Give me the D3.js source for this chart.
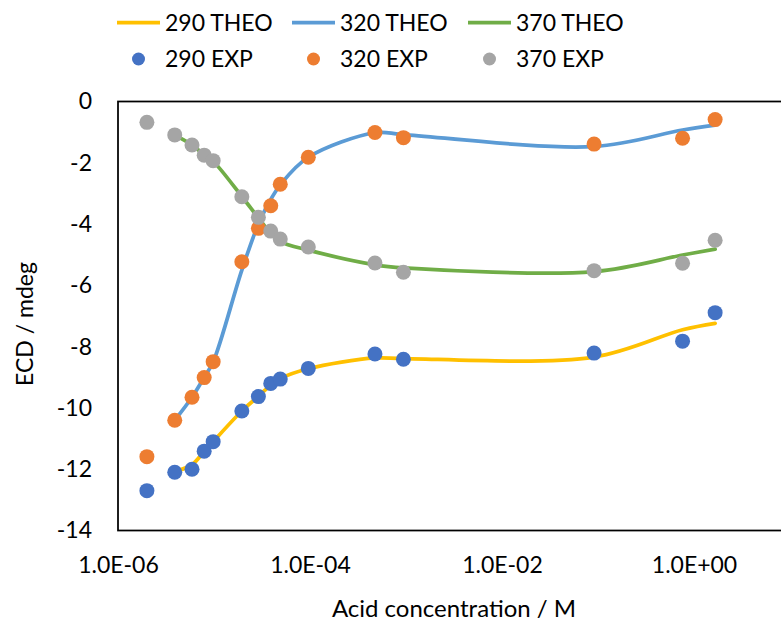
<!DOCTYPE html>
<html>
<head>
<meta charset="utf-8">
<script src="https://cdn.jsdelivr.net/npm/d3@7"></script>
<style>
  html, body { margin: 0; padding: 0; background: #fff; }
  svg { display: block; }
  text { font-family: Lato, "Open Sans", sans-serif; fill: #000; }
</style>
</head>
<body>
<svg id="chart" width="781" height="623"></svg>
<script>
// ---- data ----
const concExp = [2.0e-6, 3.9e-6, 5.9e-6, 7.9e-6, 9.8e-6, 1.95e-5, 2.9e-5, 3.9e-5, 4.9e-5, 9.6e-5, 4.75e-4, 9.4e-4, 0.091, 0.76, 1.66];
const exp290 = [-12.70, -12.10, -12.00, -11.41, -11.10, -10.10, -9.63, -9.20, -9.06, -8.71, -8.24, -8.41, -8.21, -7.82, -6.89];
const exp320 = [-11.59, -10.40, -9.65, -9.01, -8.49, -5.23, -4.14, -3.40, -2.70, -1.82, -1.01, -1.18, -1.39, -1.20, -0.59];
const exp370 = [-0.68, -1.09, -1.42, -1.75, -1.93, -3.11, -3.78, -4.23, -4.49, -4.75, -5.27, -5.57, -5.52, -5.28, -4.53];

const concTheo = [3.9e-6, 5.9e-6, 7.9e-6, 9.8e-6, 1.95e-5, 2.9e-5, 3.9e-5, 4.9e-5, 9.6e-5, 4.75e-4, 9.4e-4, 0.091, 0.76, 1.66];
const theo290 = [-12.08, -11.85, -11.42, -11.10, -10.10, -9.62, -9.25, -9.04, -8.72, -8.37, -8.39, -8.34, -7.45, -7.24];
const theo320 = [-10.40, -9.65, -9.00, -8.50, -5.50, -4.00, -3.20, -2.72, -1.82, -1.02, -1.08, -1.47, -0.93, -0.77];
const theo370 = [-1.10, -1.42, -1.74, -1.95, -3.10, -3.80, -4.30, -4.57, -4.85, -5.33, -5.43, -5.55, -5.01, -4.82];

const xTicks = [1e-6, 1e-4, 1e-2, 1e0];
const xTickLabels = ["1.0E-06", "1.0E-04", "1.0E-02", "1.0E+00"];
const yTicks = [0, -2, -4, -6, -8, -10, -12, -14];

const theoNames = ["290 THEO", "320 THEO", "370 THEO"];
const expNames = ["290 EXP", "320 EXP", "370 EXP"];
const theoColors = ["#FFC000", "#5B9BD5", "#70AD47"];
const expColors = ["#4472C4", "#ED7D31", "#A5A5A5"];

// ---- chart ----
const svg = d3.select("#chart");
const x = d3.scaleLog().domain([1e-6, 10]).range([118, 790]);
const y = d3.scaleLinear().domain([-14, 0]).range([530.5, 101.5]);
const FS = "23px";

// plot area border
svg.append("rect")
  .attr("x", x(1e-6)).attr("y", y(0))
  .attr("width", x(10) - x(1e-6)).attr("height", y(-14) - y(0))
  .attr("fill", "none").attr("stroke", "#000").attr("stroke-width", 1.75);

// axes (labels only, no ticks)
const xAxis = d3.axisBottom(x).tickValues(xTicks)
  .tickFormat((d, i) => xTickLabels[i]).tickSize(0).tickPadding(26);
const gx = svg.append("g").attr("transform", `translate(0,${y(-14)})`).call(xAxis);
gx.select(".domain").remove();
gx.selectAll("text").style("font-size", FS).style("font-family", "Lato, sans-serif");

const yAxis = d3.axisLeft(y).tickValues(yTicks).tickFormat(d => String(d)).tickSize(0).tickPadding(26);
const gy = svg.append("g").attr("transform", `translate(${x(1e-6)},0)`).call(yAxis);
gy.select(".domain").remove();
gy.selectAll("text").style("font-size", FS).style("font-family", "Lato, sans-serif");

// axis titles
svg.append("text").attr("x", 454).attr("y", 617).attr("text-anchor", "middle")
  .style("font-size", "24px").text("Acid concentration / M");
svg.append("text").attr("transform", "translate(33,324) rotate(-90)").attr("text-anchor", "middle")
  .style("font-size", "23px").text("ECD / mdeg");

// theoretical lines
const theoSeries = [theo290, theo320, theo370];
const line = d3.line().x(d => x(d[0])).y(d => y(d[1])).curve(d3.curveCatmullRom.alpha(0.5));
theoSeries.forEach((vals, i) => {
  svg.append("path")
    .datum(concTheo.map((c, j) => [c, vals[j]]))
    .attr("d", line)
    .attr("fill", "none").attr("stroke", theoColors[i]).attr("stroke-width", 3.75)
    .attr("stroke-linecap", "round").attr("stroke-linejoin", "round");
});

// experimental points
const expSeries = [exp290, exp320, exp370];
expSeries.forEach((vals, i) => {
  svg.append("g").selectAll("circle")
    .data(concExp.map((c, j) => [c, vals[j]]))
    .join("circle")
    .attr("cx", d => x(d[0])).attr("cy", d => y(d[1])).attr("r", 7.5)
    .attr("fill", expColors[i]);
});

// legend
const legX = [117, 292, 468];
theoNames.forEach((n, i) => {
  svg.append("line").attr("x1", legX[i]).attr("x2", legX[i] + 43)
    .attr("y1", 22.5).attr("y2", 22.5)
    .attr("stroke", theoColors[i]).attr("stroke-width", 3.75);
  svg.append("text").attr("x", legX[i] + 48).attr("y", 22.5).attr("dy", "0.35em")
    .style("font-size", FS).text(n);
});
expNames.forEach((n, i) => {
  svg.append("circle").attr("cx", legX[i] + 21.5).attr("cy", 59).attr("r", 6.5)
    .attr("fill", expColors[i]);
  svg.append("text").attr("x", legX[i] + 48).attr("y", 59).attr("dy", "0.35em")
    .style("font-size", FS).text(n);
});
</script>
</body>
</html>
